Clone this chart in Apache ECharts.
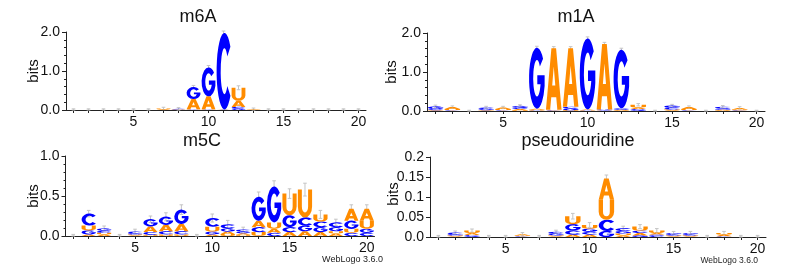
<!DOCTYPE html>
<html><head><meta charset="utf-8">
<script src="https://cdn.jsdelivr.net/npm/echarts@6/dist/echarts.min.js"></script>
<style>html,body{margin:0;padding:0;background:#fff}#c{width:793px;height:275px}</style>
</head><body><div id="c"></div>
<script>
// ---- data ----
var positions = ['1','2','3','4','5','6','7','8','9','10','11','12','13','14','15','16','17','18','19','20'];
var letters = ['A','C','G','U'];
var panelTitles = ['m6A','m1A','m5C','pseudouridine'];

var m6A_A = [0,0,0,0,0,0,0.02,0.01,0.26,0.33,0.005,0.16,0.01,0,0,0,0,0,0,0];
var m6A_C = [0,0,0,0,0,0,0,0.01,0.01,0.01,1.96,0.05,0,0,0,0,0,0,0,0];
var m6A_G = [0,0,0,0,0,0,0,0.005,0.31,0.74,0.005,0.03,0,0,0,0,0,0,0,0];
var m6A_U = [0,0,0,0,0,0,0.02,0.005,0.01,0.01,0.005,0.33,0.01,0,0,0,0,0,0,0];
var m6A_err = [0.03,0.03,0.03,0.03,0.03,0.03,0.03,0.03,0.04,0.05,0.05,0.05,0.03,0.03,0.03,0.03,0.03,0.03,0.03,0.03];

var m1A_A = [0.01,0.05,0,0.01,0.04,0.03,0.03,1.57,1.5,0.02,1.68,0.02,0.04,0,0.02,0.05,0,0.02,0.04,0];
var m1A_C = [0.03,0.01,0,0.04,0.01,0.03,0.01,0.01,0.05,0.01,0.01,0.04,0.03,0,0.04,0.01,0,0.05,0.01,0];
var m1A_G = [0.07,0.01,0,0.03,0.01,0.05,1.56,0.01,0.04,1.82,0.02,1.5,0.02,0,0.06,0.01,0,0.03,0.01,0];
var m1A_U = [0.01,0.03,0,0.01,0.03,0.02,0.02,0.02,0.02,0.01,0.01,0.01,0.07,0,0.02,0.03,0,0.01,0.02,0];
var m1A_err = [0.03,0.03,0.02,0.03,0.03,0.03,0.04,0.04,0.04,0.04,0.04,0.04,0.03,0.02,0.03,0.03,0.02,0.03,0.03,0.02];

var m5C_A = [0,0.02,0.02,0,0.01,0.07,0.08,0.09,0,0.02,0.03,0.02,0.08,0.05,0.05,0.06,0.05,0.03,0.15,0.15];
var m5C_C = [0,0.15,0.025,0,0.02,0.035,0.04,0.04,0,0.11,0.05,0.025,0.06,0.04,0.06,0.1,0.07,0.06,0.04,0.04];
var m5C_G = [0,0.05,0.03,0,0.015,0.09,0.1,0.18,0,0.035,0.04,0.02,0.3,0.45,0.15,0.07,0.06,0.05,0.1,0.05];
var m5C_U = [0,0.06,0.02,0,0.01,0.015,0.02,0.02,0,0.06,0.025,0.015,0.05,0.08,0.27,0.35,0.09,0.03,0.05,0.1];
var m5C_err = [0.02,0.04,0.03,0.02,0.03,0.04,0.05,0.06,0.02,0.05,0.05,0.03,0.06,0.07,0.06,0.08,0.05,0.04,0.05,0.05];

var psi_A = [0,0.002,0.005,0,0,0.003,0,0.002,0.006,0.006,0.053,0.004,0.006,0.004,0.002,0.002,0,0.004,0,0];
var psi_C = [0,0.004,0.003,0,0,0.001,0,0.005,0.01,0.007,0.028,0.007,0.006,0.003,0.003,0.003,0,0.001,0,0];
var psi_G = [0,0.003,0.002,0,0,0.001,0,0.004,0.016,0.008,0.015,0.006,0.004,0.003,0.003,0.003,0,0.001,0,0];
var psi_U = [0,0.002,0.006,0,0,0.002,0,0.002,0.02,0.009,0.05,0.005,0.01,0.006,0.002,0.002,0,0.004,0,0];
var psi_err = [0.004,0.004,0.004,0.004,0.004,0.004,0.004,0.004,0.007,0.006,0.009,0.005,0.005,0.005,0.004,0.004,0.004,0.004,0.004,0.004];

var yMax = [2, 2, 1, 0.2];
var yStep = [1, 1, 0.5, 0.05];

// ---- rendering ----
var panels = [
  [m6A_A, m6A_C, m6A_G, m6A_U, m6A_err],
  [m1A_A, m1A_C, m1A_G, m1A_U, m1A_err],
  [m5C_A, m5C_C, m5C_G, m5C_U, m5C_err],
  [psi_A, psi_C, psi_G, psi_U, psi_err]
];
var GLYPHS = [
  'M0 100 L35 0 L65 0 L100 100 L73 100 L66 80 L34 80 L27 100 Z M40 61 L60 61 L50 30 Z',
  'M88.3 17.9 A50 50 0 1 0 88.3 82.1 L68.4 69.3 A24 30 0 1 1 68.4 30.7 Z',
  'M88.3 17.9 A50 50 0 1 0 98.3 62.9 L98.3 45 L52 45 L52 60 L72.6 60 A24 30 0 1 1 68.4 30.7 Z',
  'M0 0 L28 0 L28 60 A22 22 0 0 0 72 60 L72 0 L100 0 L100 60 A50 40 0 0 1 0 60 Z'
];
var COLORS = ['#FF8C00', '#0000FF', '#0000FF', '#FF8C00'];
var FONT = 'Liberation Sans, Arial, Helvetica, sans-serif';

var grids = [
  {left: 66, top: 32, width: 300, height: 78},
  {left: 427, top: 33, width: 338, height: 78},
  {left: 65.5, top: 156, width: 309, height: 80},
  {left: 430, top: 157, width: 336, height: 80}
];

function buildStacks(p) {
  var letterData = [], errData = [];
  for (var i = 0; i < positions.length; i++) {
    var items = [];
    for (var k = 0; k < 4; k++) items.push({k: k, h: p[k][i]});
    items.sort(function (a, b) { return a.h - b.h; });
    var y = 0;
    items.forEach(function (it) {
      if (it.h > 0) { letterData.push([i, y, y + it.h, it.k]); y += it.h; }
    });
    errData.push([i, y, p[4][i]]);
  }
  return {letters: letterData, errs: errData};
}

function renderLetter(params, api) {
  var x = api.value(0), y0 = api.value(1), y1 = api.value(2), L = api.value(3);
  var pb = api.coord([x, y0]), pt = api.coord([x, y1]);
  var bw = api.size([1, 0])[0] * 0.92;
  var h = pb[1] - pt[1];
  if (h < 0.05) return null;
  return {
    type: 'path',
    shape: {pathData: GLYPHS[L], x: pb[0] - bw / 2, y: pt[1], width: bw, height: h, layout: 'cover'},
    style: {fill: COLORS[L]}
  };
}

function renderErr(params, api) {
  var x = api.value(0), top = api.value(1), e = api.value(2);
  var lo = api.coord([x, Math.max(0, top - e)]), hi = api.coord([x, top + e]);
  var c = 1.8;
  return {
    type: 'group',
    children: [
      {type: 'line', shape: {x1: lo[0], y1: lo[1], x2: hi[0], y2: hi[1]}, style: {stroke: '#c4c4c4', lineWidth: 1}},
      {type: 'line', shape: {x1: hi[0] - c, y1: hi[1], x2: hi[0] + c, y2: hi[1]}, style: {stroke: '#c4c4c4', lineWidth: 1}},
      {type: 'line', shape: {x1: lo[0] - c, y1: lo[1], x2: lo[0] + c, y2: lo[1]}, style: {stroke: '#c4c4c4', lineWidth: 1}}
    ]
  };
}

var xAxes = [], yAxes = [], series = [];
panels.forEach(function (p, gi) {
  xAxes.push({
    type: 'category', gridIndex: gi, data: positions, boundaryGap: true,
    axisLine: {lineStyle: {color: '#222', width: 1}},
    axisTick: {show: true, alignWithLabel: true, interval: 0, length: 3, lineStyle: {color: '#222'}},
    axisLabel: {
      interval: function (idx) { return (idx + 1) % 5 === 0; },
      margin: 5, color: '#111', fontSize: 14, fontFamily: FONT
    },
    splitLine: {show: false}
  });
  yAxes.push({
    type: 'value', gridIndex: gi, min: 0, max: yMax[gi], interval: yStep[gi],
    axisLine: {show: true, lineStyle: {color: '#222', width: 1}},
    axisTick: {show: true, length: 4, lineStyle: {color: '#222'}},
    minorTick: {show: gi !== 3, splitNumber: 5, length: 2, lineStyle: {color: '#222'}},
    splitLine: {show: false},
    axisLabel: {
      margin: 6, color: '#111', fontSize: 14, fontFamily: FONT,
      formatter: function (v) {
        if (gi === 3) return v === 0 ? '0.0' : String(+v.toFixed(2));
        return v.toFixed(1);
      }
    }
  });
  var st = buildStacks(p);
  series.push({
    type: 'custom', xAxisIndex: gi, yAxisIndex: gi, data: st.errs,
    renderItem: renderErr, z: 1, silent: true, clip: false
  });
  series.push({
    type: 'custom', xAxisIndex: gi, yAxisIndex: gi, data: st.letters,
    renderItem: renderLetter, z: 2, silent: true, clip: false
  });
});

var titlePos = [[198, 17], [576, 17], [202, 141], [578, 141]];
var bitsPos = [[34, 71], [392, 72], [34, 196], [394, 194]];
var graphics = [];
panelTitles.forEach(function (t, i) {
  graphics.push({type: 'text', x: titlePos[i][0], y: titlePos[i][1],
    style: {text: t, font: '18px ' + FONT, fill: '#111', textAlign: 'center', textVerticalAlign: 'middle'}});
  graphics.push({type: 'text', x: bitsPos[i][0], y: bitsPos[i][1], rotation: Math.PI / 2,
    style: {text: 'bits', font: '15px ' + FONT, fill: '#111', textAlign: 'center', textVerticalAlign: 'middle'}});
});
graphics.push({type: 'text', x: 383, y: 260, style: {text: 'WebLogo 3.6.0', font: '9px ' + FONT, fill: '#222', textAlign: 'right', textVerticalAlign: 'middle'}});
graphics.push({type: 'text', x: 758, y: 261, style: {text: 'WebLogo 3.6.0', font: '8.5px ' + FONT, fill: '#222', textAlign: 'right', textVerticalAlign: 'middle'}});

var chart = echarts.init(document.getElementById('c'), null, {renderer: 'canvas'});
chart.setOption({
  animation: false,
  backgroundColor: '#fff',
  grid: grids,
  xAxis: xAxes,
  yAxis: yAxes,
  series: series,
  graphic: graphics
});
</script>
</body></html>
